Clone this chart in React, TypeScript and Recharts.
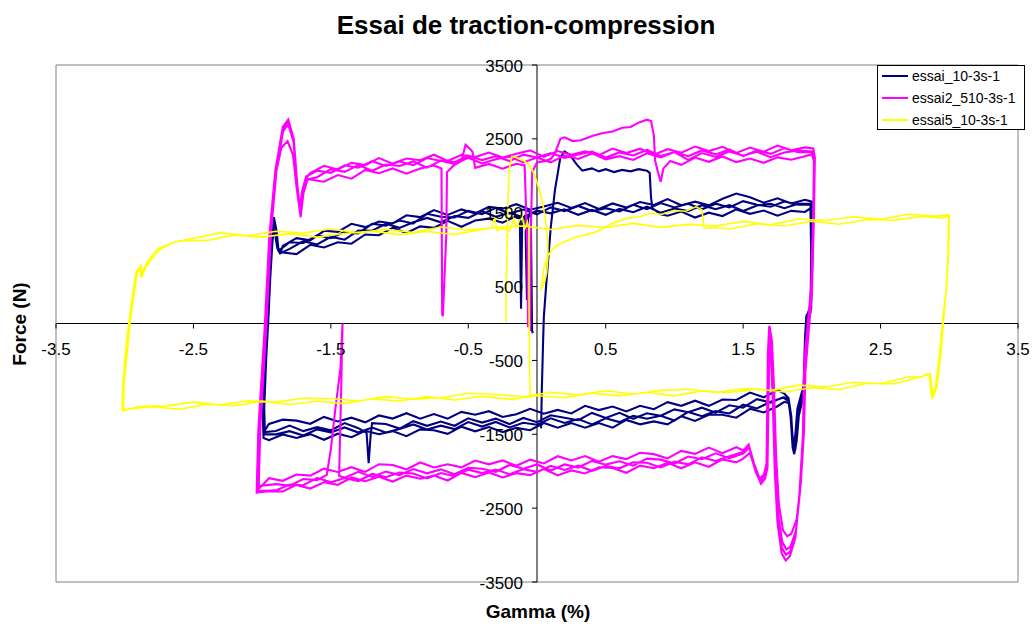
import React from 'react';
import { LineChart, Line, XAxis, YAxis, ReferenceLine, ReferenceArea, ReferenceDot } from 'recharts';

type Pt = [number, number];

// gamma (%) , force (N)
const xTicks = [-3.5, -2.5, -1.5, -0.5, 0.5, 1.5, 2.5, 3.5];
const yTicks = [-3500, -2500, -1500, -500, 500, 1500, 2500, 3500];

// ---------- essai_10-3s-1 ----------
const navyStart: Pt[] = [[0.03,-1420],[0.035,-900],[0.045,-200],[0.05,100],[0.07,600],[0.1,1300],[0.13,1800],[0.17,2250],[0.2,2330],[0.24,2280],[0.29,2150],[0.33,2070],[0.4,2100],[0.45,2060],[0.5,2090],[0.56,2050],[0.62,2080],[0.68,2060],[0.74,2090],[0.8,2070],[0.82,2040],[0.83,1700],[0.84,1560]];
const navyUpHead: Pt[] = [[0.9,1480],[0.95,1460],[1.05,1515],[1.15,1435],[1.25,1500],[1.35,1455],[1.45,1545],[1.55,1485],[1.65,1530],[1.75,1460],[1.85,1525],[1.95,1510]];
const navyDrop1: Pt[] = [[1.99,1560],[1.995,900],[1.99,150],[1.96,100],[1.95,-200],[1.94,-850],[1.92,-980],[1.895,-1150],[1.88,-1500],[1.87,-1650],[1.86,-1560],[1.85,-1250],[1.83,-1010],[1.8,-950]];
const navyLo1: Pt[] = [[1.75,-900],[1.65,-1000],[1.55,-935],[1.45,-1035],[1.35,-1030],[1.25,-1115],[1.15,-1045],[1.05,-1115],[0.95,-1065],[0.85,-1160],[0.75,-1115],[0.65,-1190],[0.55,-1125],[0.45,-1172],[0.35,-1115],[0.25,-1218],[0.15,-1170],[0.05,-1222],[-0.05,-1155],[-0.15,-1228],[-0.25,-1265],[-0.35,-1187],[-0.45,-1235],[-0.55,-1197],[-0.65,-1289],[-0.75,-1226],[-0.85,-1288],[-0.95,-1215],[-1.05,-1287],[-1.15,-1245],[-1.25,-1338],[-1.35,-1275],[-1.45,-1327],[-1.55,-1265],[-1.65,-1358],[-1.75,-1315],[-1.85,-1302],[-1.95,-1360]];
const navyRise1: Pt[] = [[-1.985,-1460],[-1.99,-1200],[-1.975,-500],[-1.96,0],[-1.945,600],[-1.93,1050],[-1.915,1440],[-1.9,1300],[-1.885,1000],[-1.87,950]];
const navyUp2: Pt[] = [[-1.8,1010],[-1.7,1115],[-1.6,1070],[-1.5,1175],[-1.4,1135],[-1.3,1260],[-1.2,1255],[-1.1,1350],[-1.0,1295],[-0.9,1370],[-0.8,1430],[-0.7,1370],[-0.6,1455],[-0.5,1430],[-0.4,1520],[-0.3,1445],[-0.2,1498],[-0.1,1438],[0,1527],[0.1,1492],[0.2,1547],[0.3,1472],[0.4,1537],[0.5,1472],[0.6,1552],[0.7,1507],[0.8,1582],[0.9,1500],[1.0,1557],[1.1,1522],[1.2,1602],[1.3,1547],[1.4,1602],[1.5,1522],[1.6,1597],[1.7,1622],[1.8,1562],[1.9,1620]];
const navyDrop2: Pt[] = [[1.99,1620],[2.0,950],[1.995,200],[1.965,120],[1.955,-150],[1.945,-820],[1.925,-1000],[1.9,-1200],[1.885,-1600],[1.872,-1770],[1.86,-1680],[1.848,-1300],[1.83,-1050],[1.79,-1000]];
const navyLo2: Pt[] = [[1.7,-1070],[1.6,-1025],[1.5,-1140],[1.4,-1108],[1.3,-1207],[1.2,-1140],[1.1,-1202],[1.0,-1163],[0.9,-1250],[0.8,-1215],[0.7,-1290],[0.6,-1210],[0.5,-1278],[0.4,-1211],[0.3,-1309],[0.2,-1277],[0.1,-1243],[0,-1336],[-0.1,-1279],[-0.2,-1362],[-0.3,-1288],[-0.4,-1341],[-0.5,-1284],[-0.6,-1385],[-0.7,-1328],[-0.8,-1385],[-0.9,-1322],[-1.0,-1423],[-1.1,-1361],[-1.2,-1349],[-1.21,-1500],[-1.225,-1890],[-1.24,-1480],[-1.3,-1417],[-1.4,-1348],[-1.5,-1446],[-1.6,-1404],[-1.7,-1457],[-1.8,-1383],[-1.9,-1456]];
const navyRise2: Pt[] = [[-1.98,-1470],[-1.985,-1150],[-1.97,-450],[-1.955,50],[-1.94,650],[-1.925,1100],[-1.91,1380],[-1.895,1250],[-1.88,980],[-1.865,960]];
const navyUp3: Pt[] = [[-1.85,1050],[-1.75,1155],[-1.65,1125],[-1.55,1255],[-1.45,1240],[-1.35,1350],[-1.25,1305],[-1.15,1380],[-1.05,1355],[-0.95,1465],[-0.85,1440],[-0.75,1535],[-0.65,1470],[-0.55,1545],[-0.45,1490],[-0.35,1580],[-0.25,1555],[-0.15,1615],[-0.05,1540],[0.05,1585],[0.15,1635],[0.25,1565],[0.35,1630],[0.45,1550],[0.55,1625],[0.65,1570],[0.75,1645],[0.85,1605],[0.95,1685],[1.05,1600],[1.15,1650],[1.25,1600],[1.35,1690],[1.45,1760],[1.55,1710],[1.65,1635],[1.75,1695],[1.85,1625],[1.95,1675]];
const navyDrop3: Pt[] = [[2.0,1650],[2.005,1000],[1.995,250],[1.97,140],[1.958,-100],[1.948,-780],[1.93,-1050],[1.905,-1250],[1.89,-1580],[1.878,-1720],[1.865,-1640],[1.852,-1350],[1.835,-1080],[1.8,-1060]];
const navyLo3: Pt[] = [[1.75,-1120],[1.65,-1205],[1.55,-1155],[1.45,-1275],[1.35,-1235],[1.25,-1235],[1.15,-1320],[1.05,-1255],[0.95,-1365],[0.85,-1325],[0.75,-1365],[0.65,-1305],[0.55,-1410],[0.45,-1347],[0.35,-1410],[0.25,-1348],[0.15,-1410],[0.05,-1347],[-0.05,-1445],[-0.15,-1413],[-0.25,-1470],[-0.35,-1402],[-0.45,-1460],[-0.55,-1397],[-0.65,-1494],[-0.75,-1446],[-0.85,-1433],[-0.95,-1525],[-1.05,-1457],[-1.15,-1500],[-1.25,-1453],[-1.35,-1540],[-1.45,-1492],[-1.55,-1575],[-1.65,-1498],[-1.75,-1550],[-1.85,-1502],[-1.95,-1580]];
const navyRise3: Pt[] = [[-1.99,-1550],[-1.995,-1250],[-1.98,-550],[-1.965,-20],[-1.95,560],[-1.935,1000],[-1.92,1300],[-1.905,1200],[-1.89,1020],[-1.87,1000]];
const navyUp4: Pt[] = [[-1.8,1100],[-1.7,1090],[-1.6,1195],[-1.5,1155],[-1.4,1240],[-1.3,1220],[-1.2,1350],[-1.1,1325],[-1.0,1395],[-0.9,1355],[-0.8,1485],[-0.7,1445],[-0.6,1435],[-0.5,1525],[-0.4,1480],[-0.3,1565],[-0.2,1488],[-0.1,1543],[0,1477],[0.1,1572],[0.2,1522],[0.3,1592],[0.4,1522],[0.5,1562],[0.6,1517],[0.7,1607],[0.8,1547],[0.9,1630],[1.0,1572],[1.1,1622],[1.2,1547],[1.3,1622],[1.4,1572],[1.5,1657],[1.6,1607],[1.7,1582],[1.8,1652],[1.9,1610]];
const navyDrop4: Pt[] = [[1.995,1610],[2.0,920],[1.99,180],[1.962,110],[1.952,-170],[1.942,-830],[1.922,-990],[1.898,-1180],[1.883,-1560],[1.87,-1700],[1.858,-1620],[1.846,-1280],[1.83,-1030],[1.8,-1000]];
const navyLo4: Pt[] = [[1.7,-1060],[1.6,-1150],[1.5,-1100],[1.4,-1218],[1.3,-1187],[1.2,-1255],[1.1,-1197],[1.0,-1313],[0.9,-1250],[0.8,-1290],[0.7,-1250],[0.6,-1335],[0.5,-1283],[0.4,-1366],[0.3,-1294],[0.2,-1347],[0.1,-1283],[0,-1371],[-0.1,-1344],[-0.2,-1407],[-0.3,-1333],[-0.4,-1396],[-0.5,-1334],[-0.6,-1430],[-0.7,-1383],[-0.8,-1435],[-0.9,-1367],[-1.0,-1428],[-1.1,-1476],[-1.2,-1409],[-1.3,-1477],[-1.4,-1408],[-1.5,-1476],[-1.6,-1434],[-1.7,-1517],[-1.8,-1458],[-1.9,-1501]];
const navyRise4: Pt[] = [[-1.985,-1500],[-1.99,-1220],[-1.972,-480],[-1.958,30],[-1.942,620],[-1.928,1080],[-1.912,1410],[-1.898,1280],[-1.882,990],[-1.86,970]];
const navyUpTail: Pt[] = [[-1.85,960],[-1.75,940],[-1.65,1065],[-1.55,1030],[-1.45,1100],[-1.35,1080],[-1.25,1205],[-1.15,1195],[-1.05,1295],[-0.95,1225],[-0.85,1315],[-0.75,1295],[-0.65,1390],[-0.55,1310],[-0.45,1395],[-0.35,1420],[-0.25,1365],[-0.15,1455],[-0.125,1420],[-0.116,200],[-0.108,1380],[-0.085,1470],[-0.073,320],[-0.065,1440],[-0.045,1480],[-0.036,-100],[-0.03,-130]];

// ---------- essai2_510-3s-1 ----------
const magStart: Pt[] = [[-0.05,-100],[-0.045,1200],[-0.035,2050],[0,2180],[0.06,2200],[0.1,2230],[0.13,2300],[0.17,2500],[0.2,2520],[0.26,2470],[0.32,2480],[0.4,2540],[0.48,2580],[0.55,2600],[0.62,2650],[0.68,2660],[0.74,2720],[0.8,2760],[0.83,2740],[0.85,2550],[0.86,2200],[0.88,2050],[0.9,1920],[0.92,2100],[0.97,2200]];
const magUpHead: Pt[] = [[1.05,2148],[1.15,2246],[1.25,2189],[1.35,2262],[1.45,2185],[1.55,2233],[1.65,2176],[1.75,2249],[1.85,2217],[1.95,2265]];
const magDrop1: Pt[] = [[2.0,2290],[2.015,2200],[2.01,1500],[1.995,500],[1.97,0],[1.945,-500],[1.935,-1500],[1.91,-2300],[1.88,-2900],[1.84,-3150],[1.81,-3210],[1.78,-3110],[1.75,-2700],[1.73,-2000],[1.715,-1000],[1.7,-300],[1.69,-30],[1.68,-400],[1.675,-1200],[1.67,-1900],[1.65,-2050],[1.62,-2100],[1.58,-1900],[1.54,-1640],[1.5,-1720]];
const magLo1: Pt[] = [[1.45,-1675],[1.35,-1755],[1.25,-1680],[1.15,-1765],[1.05,-1725],[0.95,-1827],[0.85,-1769],[0.75,-1750],[0.65,-1836],[0.55,-1796],[0.45,-1871],[0.35,-1795],[0.25,-1854],[0.15,-1797],[0.05,-1895],[-0.05,-1843],[-0.15,-1926],[-0.25,-1854],[-0.35,-1907],[-0.45,-1855],[-0.55,-1948],[-0.65,-1906],[-0.75,-1949],[-0.85,-1882],[-0.95,-1975],[-1.05,-1915],[-1.15,-1905],[-1.25,-2010],[-1.35,-1945],[-1.45,-2010],[-1.55,-1965],[-1.65,-2060],[-1.75,-2045],[-1.85,-2130],[-1.95,-2095]];
const magRise1: Pt[] = [[-2.03,-2250],[-2.02,-1400],[-1.975,-50],[-1.94,1230],[-1.9,2110],[-1.85,2660],[-1.81,2760],[-1.77,2500],[-1.745,1900],[-1.72,1440],[-1.7,1760],[-1.67,1950]];
const magUp2: Pt[] = [[-1.6,1980],[-1.5,2090],[-1.4,2053],[-1.3,2145],[-1.2,2068],[-1.1,2153],[-1.0,2132],[-0.9,2194],[-0.8,2110],[-0.7,2205],[-0.6,2160],[-0.5,2244],[-0.4,2167],[-0.3,2223],[-0.2,2260],[-0.1,2181],[0,2247],[0.1,2182],[0.2,2273],[0.3,2227],[0.4,2303],[0.5,2222],[0.6,2266],[0.7,2215],[0.8,2304],[0.9,2248],[1.0,2322],[1.1,2215],[1.2,2308],[1.3,2255],[1.4,2329],[1.5,2271],[1.6,2325],[1.7,2252],[1.8,2316],[1.9,2343]];
const magDrop2: Pt[] = [[2.005,2330],[2.02,2230],[2.012,1400],[1.998,450],[1.975,-50],[1.95,-600],[1.94,-1500],[1.915,-2250],[1.885,-2800],[1.845,-3020],[1.815,-3060],[1.785,-2960],[1.755,-2600],[1.735,-1900],[1.72,-950],[1.705,-250],[1.695,-60],[1.685,-450],[1.678,-1300],[1.672,-1950],[1.655,-2080],[1.625,-2150],[1.585,-1950],[1.545,-1680],[1.5,-1760]];
const magLo2: Pt[] = [[1.4,-1823],[1.3,-1757],[1.2,-1838],[1.1,-1802],[1.0,-1896],[0.9,-1843],[0.8,-1830],[0.7,-1925],[0.6,-1866],[0.5,-1911],[0.4,-1860],[0.3,-1950],[0.2,-1908],[0.1,-1991],[0,-1909],[-0.1,-1967],[-0.2,-1915],[-0.3,-2008],[-0.4,-1966],[-0.5,-1954],[-0.6,-2042],[-0.7,-1975],[-0.8,-2028],[-0.9,-1971],[-1.0,-2053],[-1.1,-2005],[-1.2,-2077],[-1.3,-2008],[-1.4,-2087],[-1.44,-2060],[-1.425,-900],[-1.415,0],[-1.43,-600],[-1.47,-1200],[-1.5,-1700],[-1.53,-2050],[-1.6,-2120],[-1.7,-2105],[-1.8,-2195],[-1.9,-2175]];
const magRise2: Pt[] = [[-2.025,-2200],[-2.012,-1350],[-1.968,0],[-1.935,1250],[-1.895,2080],[-1.848,2600],[-1.81,2700],[-1.772,2460],[-1.748,1950],[-1.725,1500],[-1.705,1780],[-1.675,1980]];
const magUp3: Pt[] = [[-1.65,2035],[-1.55,2135],[-1.45,2085],[-1.35,2175],[-1.25,2145],[-1.15,2240],[-1.05,2165],[-0.95,2233],[-0.85,2210],[-0.75,2285],[-0.65,2200],[-0.55,2285],[-0.45,2253],[-0.35,2315],[-0.25,2247],[-0.15,2298],[-0.05,2344],[0.05,2255],[0.15,2335],[0.25,2285],[0.35,2330],[0.45,2280],[0.55,2369],[0.65,2308],[0.75,2367],[0.85,2286],[0.95,2360],[1.05,2313],[1.15,2396],[1.25,2334],[1.35,2392],[1.45,2310],[1.55,2383],[1.65,2326],[1.75,2409],[1.85,2347],[1.95,2385]];
const magDrop3: Pt[] = [[2.01,2370],[2.022,2250],[2.015,1450],[2.0,400],[1.978,-80],[1.953,-650],[1.943,-1450],[1.92,-2150],[1.89,-2650],[1.85,-2850],[1.82,-2880],[1.79,-2800],[1.76,-2450],[1.74,-1800],[1.725,-900],[1.71,-250],[1.7,-120],[1.69,-500],[1.683,-1250],[1.677,-1950],[1.66,-2100],[1.63,-2170],[1.59,-2000],[1.55,-1750],[1.5,-1830]];
const magLo3: Pt[] = [[1.45,-1880],[1.35,-1840],[1.25,-1940],[1.15,-1880],[1.05,-1960],[0.95,-1887],[0.85,-1959],[0.75,-1925],[0.65,-2021],[0.55,-1956],[0.45,-1946],[0.35,-2030],[0.25,-1989],[0.15,-2057],[0.05,-1970],[-0.05,-2053],[-0.15,-2026],[-0.25,-2084],[-0.35,-2017],[-0.45,-2080],[-0.55,-2023],[-0.65,-2126],[-0.75,-2059],[-0.85,-2102],[-0.95,-2060],[-1.05,-2140],[-1.15,-2075],[-1.25,-2135],[-1.35,-2085],[-1.45,-2185],[-1.55,-2150],[-1.65,-2235],[-1.75,-2185],[-1.85,-2275],[-1.95,-2270]];
const magRise3: Pt[] = [[-2.04,-2290],[-2.028,-1450],[-1.982,-80],[-1.948,1180],[-1.91,1950],[-1.86,2380],[-1.815,2470],[-1.775,2280],[-1.75,1850],[-1.728,1550],[-1.708,1800],[-1.68,1990]];
const magUp4: Pt[] = [[-1.6,2070],[-1.5,2040],[-1.4,2143],[-1.3,2110],[-1.2,2198],[-1.1,2133],[-1.0,2192],[-0.9,2144],[-0.8,2240],[-0.7,2200],[-0.6,2185],[-0.5,2274],[-0.4,2212],[-0.3,2263],[-0.2,2200],[-0.1,2286],[0,2247],[0.1,2307],[0.2,2243],[0.3,2287],[0.4,2328],[0.5,2247],[0.6,2316],[0.7,2275],[0.8,2349],[0.9,2268],[1.0,2322],[1.1,2265],[1.2,2343],[1.3,2290],[1.4,2359],[1.5,2266],[1.6,2345],[1.7,2297],[1.8,2376],[1.9,2318]];
const magDrop4: Pt[] = [[2.0,2320],[2.018,2210],[2.011,1450],[1.996,480],[1.972,-20],[1.948,-550],[1.938,-1500],[1.912,-2280],[1.882,-2850],[1.842,-3090],[1.812,-3130],[1.782,-3040],[1.752,-2650],[1.732,-1950],[1.717,-980],[1.702,-280],[1.692,-40],[1.682,-420],[1.676,-1250],[1.671,-1920],[1.652,-2060],[1.622,-2120],[1.582,-1920],[1.542,-1660],[1.5,-1740]];
const magLo4: Pt[] = [[1.4,-1798],[1.3,-1862],[1.2,-1813],[1.1,-1907],[1.0,-1871],[0.9,-1948],[0.8,-1885],[0.7,-1880],[0.6,-1961],[0.5,-1931],[0.4,-1995],[0.3,-1925],[0.2,-1983],[0.1,-1926],[0,-2009],[-0.1,-1972],[-0.2,-2040],[-0.3,-1978],[-0.4,-2026],[-0.5,-1979],[-0.6,-2067],[-0.7,-2025],[-0.8,-2098],[-0.9,-2031],[-1.0,-2018],[-1.1,-2080],[-1.2,-2037],[-1.3,-2133],[-1.4,-2092],[-1.5,-2150],[-1.6,-2090],[-1.7,-2190],[-1.8,-2180],[-1.9,-2260]];
const magRise4: Pt[] = [[-2.035,-2270],[-2.024,-1420],[-1.978,-60],[-1.944,1200],[-1.903,2090],[-1.852,2620],[-1.81,2730],[-1.771,2480],[-1.747,1920],[-1.722,1470],[-1.702,1770],[-1.672,1960]];
const magUpTail: Pt[] = [[-1.65,1950],[-1.55,1920],[-1.45,2010],[-1.35,1960],[-1.25,2080],[-1.15,2035],[-1.05,2100],[-0.95,2028],[-0.85,2100],[-0.75,2140],[-0.695,2100],[-0.69,130],[-0.685,100],[-0.66,1200],[-0.655,2050],[-0.6,2150],[-0.55,2200],[-0.52,2420],[-0.47,2330],[-0.45,2108],[-0.35,2160],[-0.25,2097],[-0.15,2163],[-0.09,2140],[-0.07,1000],[-0.065,-50]];

// ---------- essai5_10-3s-1 ----------
const yelStart: Pt[] = [[-0.227,20],[-0.222,700],[-0.218,994],[-0.212,1600],[-0.204,2084],[-0.182,2261],[-0.155,2250],[-0.131,2230],[-0.095,2200],[-0.058,2152],[-0.03,2060],[-0.007,1948],[0.015,1820],[0.036,1675],[0.055,1480],[0.066,1335],[0.078,1100],[0.08,900],[0.07,680],[0.058,586],[0.04,500],[0.03,450],[0.04,600],[0.051,763],[0.075,900],[0.109,994],[0.14,1050],[0.18,1090],[0.23,1130],[0.284,1171],[0.35,1200],[0.43,1239],[0.5,1310],[0.575,1376],[0.67,1430],[0.75,1445],[0.82,1490],[0.91,1480],[1.0,1530],[1.08,1520],[1.157,1580],[1.2,1539],[1.215,1294],[1.3,1300]];
const yelUpHead: Pt[] = [[1.4,1280],[1.6,1350],[1.8,1320],[2.0,1385],[2.2,1343],[2.4,1409],[2.6,1398],[2.8,1450],[2.95,1430]];
const yelDrop1: Pt[] = [[3.0,1455],[2.995,1000],[2.98,500],[2.955,100],[2.93,-400],[2.9,-850],[2.875,-1020],[2.865,-900],[2.855,-700],[2.84,-680],[2.8,-720]];
const yelLo1: Pt[] = [[2.7,-725],[2.5,-815],[2.3,-795],[2.1,-860],[1.9,-835],[1.7,-905],[1.5,-880],[1.3,-935],[1.1,-890],[0.9,-905],[0.7,-955],[0.5,-910],[0.3,-967],[0.1,-930],[-0.1,-993],[-0.3,-961],[-0.5,-945],[-0.7,-1005],[-0.9,-1025],[-1.1,-990],[-1.3,-1050],[-1.5,-1015],[-1.7,-1012],[-1.9,-1065],[-2.1,-1047],[-2.3,-1105],[-2.5,-1065],[-2.7,-1115],[-2.9,-1125]];
const yelRise1: Pt[] = [[-3.01,-1185],[-3.005,-820],[-2.98,-350],[-2.955,110],[-2.93,420],[-2.91,680],[-2.88,790],[-2.875,630],[-2.85,750],[-2.82,830],[-2.75,995],[-2.66,1090]];
const yelUp2: Pt[] = [[-2.5,1155],[-2.3,1227],[-2.1,1188],[-1.9,1248],[-1.7,1226],[-1.5,1279],[-1.3,1227],[-1.1,1275],[-0.9,1233],[-0.7,1306],[-0.5,1264],[-0.3,1300],[-0.1,1322],[0.1,1273],[0.3,1329],[0.5,1300],[0.7,1355],[0.9,1301],[1.1,1342],[1.3,1320],[1.5,1382],[1.7,1335],[1.9,1415],[2.1,1395],[2.3,1446],[2.5,1411],[2.7,1479],[2.9,1456]];
const yelDrop2: Pt[] = [[2.995,1470],[2.99,900],[2.975,400],[2.965,200],[2.94,-400],[2.91,-850],[2.885,-990],[2.87,-820],[2.86,-680],[2.82,-710]];
const yelLo2: Pt[] = [[2.6,-815],[2.4,-808],[2.2,-893],[2.0,-870],[1.8,-928],[1.6,-885],[1.4,-935],[1.2,-915],[1.0,-980],[0.8,-930],[0.6,-980],[0.4,-943],[0.2,-1006],[0,-979],[-0.2,-1027],[-0.4,-985],[-0.6,-1035],[-0.8,-990],[-1.0,-1050],[-1.2,-1020],[-1.4,-1085],[-1.6,-1053],[-1.8,-1096],[-2.0,-1051],[-2.2,-1113],[-2.4,-1092],[-2.6,-1160],[-2.8,-1127]];
const yelRise2: Pt[] = [[-3.02,-1165],[-3.012,-800],[-2.99,-300],[-2.962,120],[-2.94,430],[-2.918,700],[-2.89,760],[-2.882,650],[-2.86,740],[-2.83,850],[-2.76,1010],[-2.67,1080]];
const yelUpTail: Pt[] = [[-2.6,1120],[-2.4,1125],[-2.2,1200],[-2.0,1170],[-1.8,1217],[-1.6,1170],[-1.4,1218],[-1.2,1251],[-1.0,1204],[-0.8,1247],[-0.6,1205],[-0.4,1272],[-0.33,1300],[-0.31,1440],[-0.29,1260],[-0.24,1290],[-0.2,1250],[-0.17,1420],[-0.15,1300],[-0.11,1470],[-0.09,1280],[-0.07,1380],[-0.06,1300],[-0.058,400],[-0.055,-600],[-0.05,-970]];

const toRows = (...parts: Pt[][]) => parts.flat().map(([x, y]) => ({ x, y }));

const navyRows = toRows(navyStart, navyUpHead, navyDrop1, navyLo1, navyRise1, navyUp2, navyDrop2, navyLo2, navyRise2,
  navyUp3, navyDrop3, navyLo3, navyRise3, navyUp4, navyDrop4, navyLo4, navyRise4, navyUpTail);
const magRows = toRows(magStart, magUpHead, magDrop1, magLo1, magRise1, magUp2, magDrop2, magLo2, magRise2,
  magUp3, magDrop3, magLo3, magRise3, magUp4, magDrop4, magLo4, magRise4, magUpTail);
const yelRows = toRows(yelStart, yelUpHead, yelDrop1, yelLo1, yelRise1, yelUp2, yelDrop2, yelLo2, yelRise2, yelUpTail);

const series = [
  { name: 'essai_10-3s-1', color: '#000080', width: 2.1, rows: navyRows },
  { name: 'essai2_510-3s-1', color: '#FF00FF', width: 2.1, rows: magRows },
  { name: 'essai5_10-3s-1', color: '#FFFF00', width: 1.6, rows: yelRows },
];

const font = 'Arial, "Liberation Sans", sans-serif';

function XTick({ cx, cy, label }: { cx: number; cy: number; label: string }) {
  return (
    <g>
      <line x1={cx} y1={cy} x2={cx} y2={cy + 5} stroke="#000" />
      <text x={cx} y={cy + 31.5} textAnchor="middle" fontSize={17} fontFamily={font} fill="#000">{label}</text>
    </g>
  );
}

function YTick({ cx, cy, label }: { cx: number; cy: number; label: string }) {
  return (
    <g>
      <line x1={cx - 5} y1={cy} x2={cx} y2={cy} stroke="#000" />
      <text x={cx - 14} y={cy + 6.5} textAnchor="end" fontSize={17} fontFamily={font} fill="#000">{label}</text>
    </g>
  );
}

export default function App() {
  return (
    <div style={{ position: 'absolute', left: 0, top: 0, width: 1034, height: 626, background: '#fff', fontFamily: font }}>
      <div style={{ position: 'absolute', left: 0, top: 10, width: 1052, textAlign: 'center', fontSize: 26, fontWeight: 'bold', lineHeight: '30px' }}>
        Essai de traction-compression
      </div>
      <div style={{ position: 'absolute', left: 0, top: 599, width: 1076, textAlign: 'center', fontSize: 19, fontWeight: 'bold', lineHeight: '26px' }}>
        Gamma (%)
      </div>
      <div style={{ position: 'absolute', left: 20 - 70, top: 324 - 13, width: 140, height: 26, textAlign: 'center', fontSize: 19, fontWeight: 'bold', lineHeight: '26px', transform: 'rotate(-90deg)' }}>
        Force (N)
      </div>
      <div style={{ position: 'absolute', left: 0, top: 0 }}>
        <LineChart width={1034} height={626} margin={{ top: 65, right: 16, bottom: 44, left: 56 }}>
          <XAxis type="number" dataKey="x" domain={[-3.5, 3.5]} allowDataOverflow hide />
          <YAxis type="number" dataKey="y" domain={[-3500, 3500]} allowDataOverflow hide />
          <ReferenceArea x1={-3.5} x2={3.5} y1={-3500} y2={3500} fill="none" fillOpacity={0} stroke="#808080" strokeWidth={1} ifOverflow="visible" />
          <ReferenceLine y={0} stroke="#000" strokeWidth={1} />
          <ReferenceLine x={0} stroke="#000" strokeWidth={1} />
          {xTicks.map((t) => (
            <ReferenceDot key={'x' + t} x={t} y={0} r={0} ifOverflow="visible"
              shape={(p: any) => <XTick cx={p.cx} cy={p.cy} label={String(t)} />} />
          ))}
          {yTicks.map((t) => (
            <ReferenceDot key={'y' + t} x={0} y={t} r={0} ifOverflow="visible"
              shape={(p: any) => <YTick cx={p.cx} cy={p.cy} label={String(t)} />} />
          ))}
          {series.map((s) => (
            <Line key={s.name} name={s.name} data={s.rows} dataKey="y" type="linear" stroke={s.color}
              strokeWidth={s.width} dot={false} activeDot={false} isAnimationActive={false} />
          ))}
        </LineChart>
      </div>
      <div style={{ position: 'absolute', left: 877, top: 65, width: 148, height: 65, border: '1px solid #000', background: '#fff', boxSizing: 'border-box' }}>
        {series.map((s, i) => (
          <div key={s.name} style={{ position: 'absolute', left: 0, top: i * 22 - 1, height: 22, display: 'flex', alignItems: 'center', fontSize: 14, whiteSpace: 'nowrap' }}>
            <span style={{ display: 'inline-block', marginLeft: 4, width: 26, height: 1.5, background: s.color }} />
            <span style={{ marginLeft: 4 }}>{s.name}</span>
          </div>
        ))}
      </div>
    </div>
  );
}
